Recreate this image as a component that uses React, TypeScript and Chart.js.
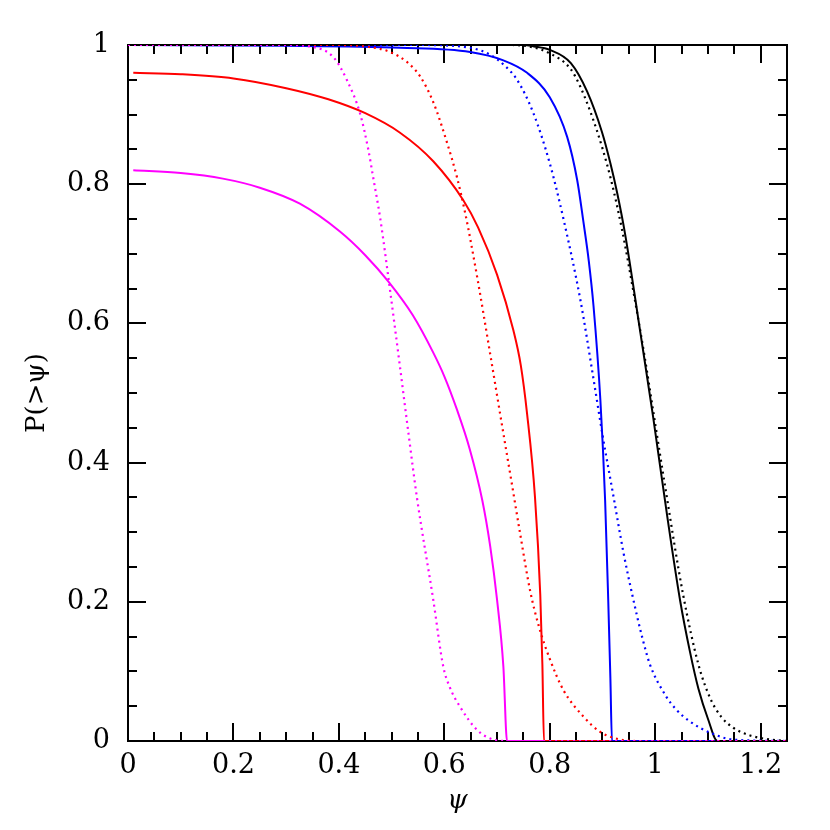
import React, { useEffect, useRef } from "react";
import { Chart, registerables } from "chart.js";

Chart.register(...registerables);

// ---- data (psi, P(>psi)) ----
const blackSolidX = [0, 0.75, 0.77, 0.8, 0.84, 0.871, 0.899, 0.915, 0.928, 0.943, 0.972, 0.996, 1.023, 1.047, 1.066, 1.082, 1.1, 1.118, 1.25];
const blackSolidY = [1, 1, 0.998, 0.993, 0.974, 0.933, 0.875, 0.83, 0.787, 0.728, 0.586, 0.466, 0.322, 0.203, 0.128, 0.075, 0.032, 0, 0];

const blackDotX = [0, 0.72, 0.76, 0.8, 0.839, 0.858, 0.889, 0.915, 0.937, 0.96, 0.98, 0.996, 1.02, 1.053, 1.082, 1.104, 1.125, 1.148, 1.18, 1.218, 1.25];
const blackDotY = [1, 1, 0.998, 0.988, 0.966, 0.94, 0.878, 0.81, 0.735, 0.64, 0.552, 0.475, 0.36, 0.21, 0.11, 0.062, 0.035, 0.019, 0.008, 0.002, 0];

const blueSolidX = [0, 0.3, 0.516, 0.649, 0.712, 0.757, 0.8, 0.833, 0.852, 0.864, 0.874, 0.883, 0.896, 0.905, 0.911, 0.915, 0.918, 1.25];
const blueSolidY = [1, 0.999, 0.996, 0.99, 0.978, 0.96, 0.925, 0.868, 0.806, 0.745, 0.69, 0.625, 0.49, 0.346, 0.2, 0.09, 0, 0];

const blueDotX = [0, 0.55, 0.649, 0.687, 0.715, 0.738, 0.769, 0.8, 0.826, 0.858, 0.883, 0.9, 0.92, 0.94, 0.958, 0.975, 0.99, 1.02, 1.04, 1.066, 1.104, 1.148, 1.25];
const blueDotY = [1, 1, 0.996, 0.986, 0.97, 0.95, 0.902, 0.83, 0.75, 0.634, 0.52, 0.44, 0.355, 0.27, 0.205, 0.15, 0.11, 0.065, 0.045, 0.028, 0.012, 0.002, 0];

const redSolidX = [0.01, 0.1, 0.2, 0.3, 0.38, 0.45, 0.516, 0.579, 0.636, 0.664, 0.7, 0.731, 0.745, 0.757, 0.772, 0.782, 0.786, 0.789, 1.25];
const redSolidY = [0.96, 0.958, 0.952, 0.938, 0.922, 0.902, 0.874, 0.833, 0.777, 0.738, 0.67, 0.59, 0.54, 0.47, 0.35, 0.21, 0.11, 0, 0];

const redDotX = [0, 0.4, 0.459, 0.497, 0.53, 0.554, 0.579, 0.605, 0.624, 0.64, 0.662, 0.687, 0.712, 0.728, 0.744, 0.763, 0.78, 0.8, 0.826, 0.864, 0.896, 0.934, 0.97, 1.25];
const redDotY = [1, 1, 0.997, 0.99, 0.975, 0.955, 0.918, 0.86, 0.81, 0.757, 0.668, 0.556, 0.442, 0.37, 0.297, 0.215, 0.163, 0.118, 0.073, 0.035, 0.013, 0.002, 0, 0];

const magentaSolidX = [0.01, 0.1, 0.18, 0.25, 0.326, 0.402, 0.45, 0.494, 0.54, 0.579, 0.6, 0.624, 0.648, 0.672, 0.687, 0.7, 0.712, 0.719, 1.25];
const magentaSolidY = [0.82, 0.816, 0.808, 0.795, 0.772, 0.732, 0.698, 0.66, 0.612, 0.558, 0.524, 0.476, 0.42, 0.346, 0.28, 0.203, 0.107, 0, 0];

const magentaDotX = [0, 0.3, 0.351, 0.389, 0.415, 0.44, 0.456, 0.465, 0.478, 0.497, 0.516, 0.532, 0.548, 0.579, 0.598, 0.61, 0.63, 0.662, 0.693, 0.72, 1.25];
const magentaDotY = [1, 1, 0.997, 0.983, 0.95, 0.902, 0.849, 0.81, 0.753, 0.648, 0.537, 0.442, 0.35, 0.203, 0.107, 0.078, 0.049, 0.016, 0.002, 0, 0];

const xMajorTicks = [0, 0.2, 0.4, 0.6, 0.8, 1, 1.2];
const yMajorTicks = [0, 0.2, 0.4, 0.6, 0.8, 1];
const minorStep = 0.05;

const pts = (xs: number[], ys: number[]) => xs.map((x, i) => ({ x, y: ys[i] }));

const seriesDefs = [
  { xs: magentaDotX, ys: magentaDotY, color: "#ff00ff", dotted: true },
  { xs: redDotX, ys: redDotY, color: "#ff0000", dotted: true },
  { xs: blueDotX, ys: blueDotY, color: "#0000ff", dotted: true },
  { xs: blackDotX, ys: blackDotY, color: "#000000", dotted: true },
  { xs: blackSolidX, ys: blackSolidY, color: "#000000", dotted: false },
  { xs: blueSolidX, ys: blueSolidY, color: "#0000ff", dotted: false },
  { xs: redSolidX, ys: redSolidY, color: "#ff0000", dotted: false },
  { xs: magentaSolidX, ys: magentaSolidY, color: "#ff00ff", dotted: false },
];

const framePlugin = {
  id: "frameTicks",
  beforeDatasetsDraw(chart: any) {
    const { ctx, chartArea, scales } = chart;
    const { left, right, top, bottom } = chartArea;
    const xs = scales.x;
    const ys = scales.y;
    ctx.save();
    ctx.strokeStyle = "#000";
    ctx.lineWidth = 2;
    ctx.strokeRect(left, top, right - left, bottom - top);
    const major = 18;
    const minor = 9;
    const isMajor = (v: number, arr: number[]) => arr.some((m) => Math.abs(m - v) < 1e-6);
    ctx.beginPath();
    for (let i = 0; i * minorStep <= xs.max + 1e-9; i++) {
      const v = i * minorStep;
      const len = isMajor(v, xMajorTicks) ? major : minor;
      const px = Math.round(xs.getPixelForValue(v));
      ctx.moveTo(px, bottom);
      ctx.lineTo(px, bottom - len);
      ctx.moveTo(px, top);
      ctx.lineTo(px, top + len);
    }
    for (let i = 0; i * minorStep <= ys.max + 1e-9; i++) {
      const v = i * minorStep;
      const len = isMajor(v, yMajorTicks) ? major : minor;
      const py = Math.round(ys.getPixelForValue(v));
      ctx.moveTo(left, py);
      ctx.lineTo(left + len, py);
      ctx.moveTo(right, py);
      ctx.lineTo(right - len, py);
    }
    ctx.stroke();
    ctx.restore();
  },
};

export default function App() {
  const ref = useRef<HTMLCanvasElement | null>(null);
  useEffect(() => {
    if (!ref.current) return;
    const font = "'DejaVu Serif', serif";
    const chart = new Chart(ref.current, {
      type: "line",
      data: {
        datasets: seriesDefs.map((s) => ({
          data: pts(s.xs, s.ys),
          borderColor: s.color,
          backgroundColor: s.color,
          borderWidth: s.dotted ? 2.2 : 2,
          borderDash: s.dotted ? [2, 4] : [],
          pointRadius: 0,
          fill: false,
          cubicInterpolationMode: "monotone" as const,
        })),
      },
      options: {
        animation: false,
        responsive: false,
        layout: { padding: { left: 0, top: 45, right: 43, bottom: 0 } },
        plugins: { legend: { display: false }, tooltip: { enabled: false } },
        scales: {
          x: {
            type: "linear",
            min: 0,
            max: 1.25,
            afterFit: (s: any) => { s.height = 89; },
            grid: { display: false, drawTicks: false },
            border: { display: false },
            ticks: {
              stepSize: 0.2,
              includeBounds: false,
              autoSkip: false,
              maxRotation: 0,
              padding: 9,
              color: "#000",
              font: { family: font, size: 27 },
              callback: (v: any) => String(Number(Number(v).toFixed(2))),
            },
            title: {
              display: true,
              text: "ψ",
              color: "#000",
              font: { family: font, size: 26, style: "italic" },
              padding: { top: 0, bottom: 13 },
            },
          },
          y: {
            type: "linear",
            min: 0,
            max: 1,
            afterFit: (s: any) => { s.width = 128; },
            grid: { display: false, drawTicks: false },
            border: { display: false },
            ticks: {
              stepSize: 0.2,
              autoSkip: false,
              padding: 18,
              color: "#000",
              font: { family: font, size: 27 },
              callback: (v: any) => String(Number(Number(v).toFixed(2))),
            },
            title: {
              display: true,
              text: "P(>ψ)",
              color: "#000",
              font: { family: font, size: 26 },
              padding: { top: 22, bottom: 0 },
            },
          },
        },
      },
      plugins: [framePlugin],
    } as any);
    return () => chart.destroy();
  }, []);
  return (
    <div style={{ position: "absolute", left: 0, top: 0, width: 830, height: 830, background: "#fff" }}>
      <canvas ref={ref} width={830} height={830} style={{ width: 830, height: 830, display: "block" }} />
    </div>
  );
}
